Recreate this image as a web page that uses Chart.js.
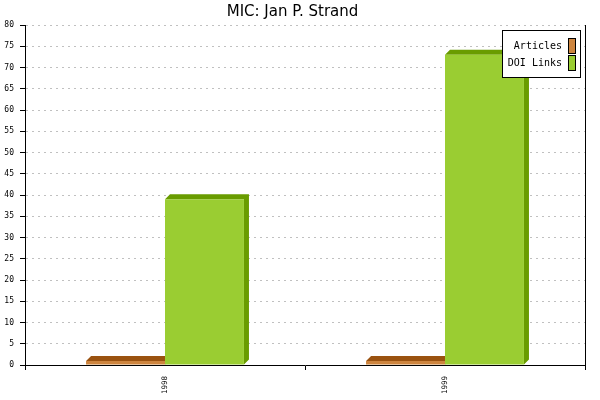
<!DOCTYPE html>
<html>
<head>
<meta charset="utf-8">
<script src="https://cdn.jsdelivr.net/npm/chart.js@4"></script>
<style>
  html, body { margin: 0; padding: 0; background: #fff; }
  #wrap { width: 600px; height: 400px; }
</style>
</head>
<body>
<div id="wrap"><canvas id="chart" width="600" height="400"></canvas></div>
<script>
// data
var years = ["1998", "1999"];
var articles = [0, 0];
var doiLinks = [39, 73];
var seriesNames = ["Articles", "DOI Links"];

var yMax = 80;
var yStep = 5;

var frontColors = ["#cd853f", "#9acd32"];
var darkColors = ["#9a5210", "#699c00"];
var depth = 5;

// fake 3d: top and right face for each bar, drawn before the fronts so
// the next bar's front covers the previous bar's side
var bar3d = {
    id: "bar3d",
    beforeDatasetsDraw: function (chart) {
        var ctx = chart.ctx;
        ctx.save();
        chart.data.datasets.forEach(function (ds, i) {
            var meta = chart.getDatasetMeta(i);
            ctx.fillStyle = ds.sideColor;
            meta.data.forEach(function (bar) {
                var p = bar.getProps(["x", "y", "base", "width"], true);
                var left = p.x - p.width / 2;
                var right = p.x + p.width / 2;
                var top = Math.min(p.y, p.base);
                var bottom = Math.max(p.y, p.base);
                ctx.beginPath();
                ctx.moveTo(left, top);
                ctx.lineTo(left + depth, top - depth);
                ctx.lineTo(right + depth, top - depth);
                ctx.lineTo(right + depth, bottom - depth);
                ctx.lineTo(right, bottom);
                ctx.lineTo(right, top);
                ctx.closePath();
                ctx.fill();
            });
        });
        ctx.restore();
    }
};

// right frame line and the boxed legend in the top right corner
var frameAndLegend = {
    id: "frameAndLegend",
    afterDraw: function (chart) {
        var ctx = chart.ctx;
        var area = chart.chartArea;
        ctx.save();
        ctx.setLineDash([]);
        ctx.strokeStyle = "#000";
        ctx.lineWidth = 1;
        ctx.beginPath();
        ctx.moveTo(Math.round(area.right) + 0.5, area.top);
        ctx.lineTo(Math.round(area.right) + 0.5, area.bottom);
        ctx.stroke();

        ctx.font = "10px 'DejaVu Sans Mono'";
        var textW = 0;
        seriesNames.forEach(function (n) { textW = Math.max(textW, ctx.measureText(n).width); });
        var boxW = Math.round(textW + 24);
        var boxH = 47;
        var bx = Math.round(area.right) - 5 - boxW;
        var by = Math.round(area.top) + 5;
        ctx.fillStyle = "#fff";
        ctx.fillRect(bx, by, boxW, boxH);
        ctx.strokeRect(bx + 0.5, by + 0.5, boxW, boxH);

        ctx.textAlign = "right";
        ctx.textBaseline = "middle";
        seriesNames.forEach(function (n, i) {
            var cy = by + 16 + i * 17;
            ctx.fillStyle = "#000";
            ctx.fillText(n, bx + boxW - 18, cy);
            ctx.fillStyle = frontColors[i];
            ctx.fillRect(bx + boxW - 12, cy - 8, 7, 15);
            ctx.strokeRect(bx + boxW - 11.5, cy - 7.5, 7, 15);
        });
        ctx.restore();
    }
};

new Chart(document.getElementById("chart"), {
    type: "bar",
    data: {
        labels: years,
        datasets: [{
            label: seriesNames[0],
            data: articles,
            backgroundColor: frontColors[0],
            sideColor: darkColors[0],
            minBarLength: 4
        }, {
            label: seriesNames[1],
            data: doiLinks,
            backgroundColor: frontColors[1],
            sideColor: darkColors[1]
        }]
    },
    options: {
        responsive: false,
        animation: false,
        events: [],
        layout: { padding: { left: 0, right: 15, top: 0, bottom: 0 } },
        datasets: {
            bar: { categoryPercentage: 0.564, barPercentage: 1.0 }
        },
        plugins: {
            legend: { display: false },
            tooltip: { enabled: false },
            title: {
                display: true,
                text: "MIC: Jan P. Strand",
                color: "#000",
                font: { family: "'DejaVu Sans'", size: 15, weight: "normal" },
                padding: { top: 3, bottom: 4 }
            }
        },
        scales: {
            x: {
                offset: true,
                afterFit: function (scale) { scale.height = 35; },
                grid: {
                    offset: true,
                    drawOnChartArea: false,
                    drawTicks: true,
                    tickLength: 5,
                    tickColor: "#000"
                },
                border: { color: "#000", width: 1 },
                ticks: {
                    color: "#000",
                    font: { family: "'DejaVu Sans Mono'", size: 7.5 },
                    minRotation: 90,
                    maxRotation: 90,
                    padding: 6
                }
            },
            y: {
                min: 0,
                max: yMax,
                afterFit: function (scale) { scale.width = 25; },
                grid: {
                    color: function (c) { return c.tick && c.tick.value === 0 ? "rgba(0,0,0,0)" : "#c0c0c0"; },
                    tickBorderDash: [],
                    tickLength: 5,
                    tickColor: "#000"
                },
                border: { color: "#000", width: 1, dash: [2, 4] },
                ticks: {
                    stepSize: yStep,
                    color: "#000",
                    font: { family: "'DejaVu Sans Mono'", size: 8 },
                    padding: 6
                }
            }
        }
    },
    plugins: [bar3d, frameAndLegend]
});
</script>
</body>
</html>
